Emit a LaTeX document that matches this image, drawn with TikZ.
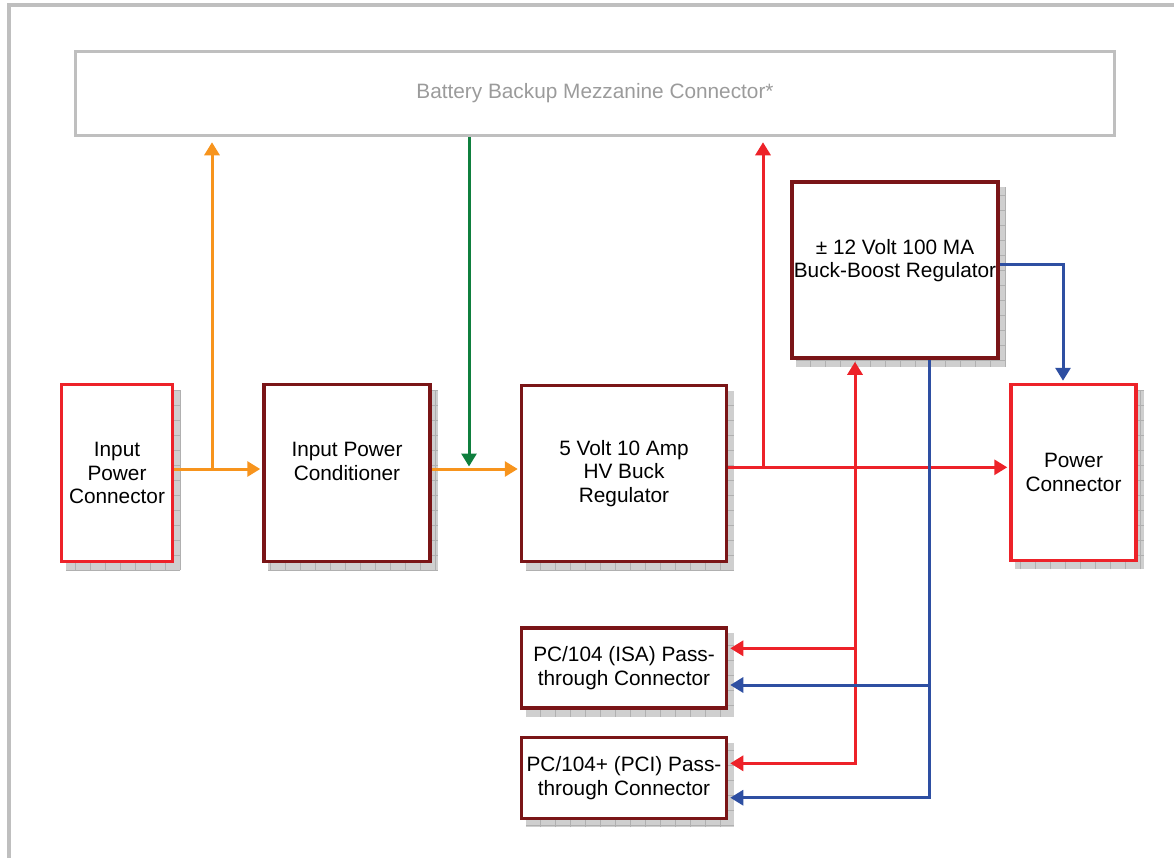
\documentclass[tikz,border=0pt]{standalone}
\usepackage{fontspec}
\setmainfont{Liberation Sans}
\usetikzlibrary{calc}
\usetikzlibrary{arrows.meta}
\usetikzlibrary{backgrounds}

\definecolor{boxred}{HTML}{ED2229}
\definecolor{boxmaroon}{HTML}{7A1517}
\definecolor{feedorange}{HTML}{F7941D}
\definecolor{feedgreen}{HTML}{0F7F3E}
\definecolor{feedblue}{HTML}{2E4FA2}
\definecolor{framegray}{HTML}{BFBFBF}
\definecolor{mezztext}{HTML}{9B9B9B}

\begin{document}
\begin{tikzpicture}[x=1pt,y=-1pt,
  blocknode/.style={draw,fill=white,line width=3.5pt,align=center,inner sep=0pt,
    font=\fontsize{20.8}{23.5}\selectfont},
  redblock/.style={blocknode,draw=boxred},
  darkblock/.style={blocknode,draw=boxmaroon},
  feed/.style={line width=3pt,-{Triangle[length=13pt,width=15pt]},shorten >=2pt},
  feedboth/.style={line width=3pt,{Triangle[length=13pt,width=15pt]}-{Triangle[length=13pt,width=15pt]},
    shorten >=2pt,shorten <=2pt}]

\useasboundingbox (0,0) rectangle (1174,857);

% Outer frame
\draw[framegray,line width=4.5pt] (9,880) -- (9,5) -- (1190,5);

% Battery Backup Mezzanine Connector
\node[draw=framegray,line width=3.5pt,minimum width=1039pt,minimum height=84pt,
  text=mezztext,font=\fontsize{20.8}{23.5}\selectfont] (Mezz) at (595,93.5)
  {Battery Backup Mezzanine Connector*};

% Blocks
\node[redblock,minimum width=111pt,minimum height=177pt] (InputConn) at (117,473)
  {Input\\Power\\Connector};
\node[darkblock,minimum width=166pt,minimum height=177pt] (PowerCond) at (347,473)
  {Input Power\\Conditioner\\\mbox{}};
\node[darkblock,minimum width=205pt,minimum height=176pt] (BuckReg) at (624,473.5)
  {5 Volt 10 Amp\\HV Buck\\Regulator};
\node[darkblock,minimum width=206pt,minimum height=176pt] (BoostReg) at (895,270)
  {± 12 Volt 100 MA\\Buck-Boost Regulator\\\mbox{}};
\node[redblock,minimum width=125pt,minimum height=176pt] (PowerConn) at (1073.5,472.5)
  {Power\\Connector};
\node[darkblock,minimum width=205pt,minimum height=80pt] (IsaConn) at (624,668)
  {PC/104 (ISA) Pass-\\through Connector};
\node[darkblock,minimum width=205pt,minimum height=81pt] (PciConn) at (624,778)
  {PC/104+ (PCI) Pass-\\through Connector};

% Grid shadows
\begin{scope}[on background layer]
\foreach \n in {InputConn,PowerCond,BuckReg,BoostReg,PowerConn,IsaConn,PciConn}{
  \fill[gray!38] ([shift={(6,7)}]\n.south west) rectangle ([shift={(6,7)}]\n.north east);
  \draw[gray!62,line width=0.5pt,step=15pt] ([shift={(6,7)}]\n.south west) grid ([shift={(6,7)}]\n.north east);
}
\end{scope}

% Taps
\coordinate (OrangeTap) at (212,469);
\coordinate (GreenTap) at (469,466.5);
\coordinate (RedTap) at (763,467.3);
\coordinate (RedIsa) at (855,648.3);
\coordinate (RedPci) at (855,763.3);
\coordinate (BlueTurn) at (1063,264.3);
\coordinate (BlueIsa) at (929,685);
\coordinate (BluePci) at (929,797.7);

% Input feed (orange)
\draw[feed,feedorange] (InputConn.east |- OrangeTap) -- (PowerCond.west |- OrangeTap);
\draw[feed,feedorange,shorten >=5pt] (OrangeTap) -- (OrangeTap |- Mezz.south);
\draw[feed,feedorange] (PowerCond.east |- OrangeTap) -- (BuckReg.west |- OrangeTap);

% Backup feed (green)
\draw[feed,feedgreen,shorten >=0pt] (GreenTap |- Mezz.south) -- (GreenTap);

% 5 V (red)
\draw[feed,boxred] (BuckReg.east |- RedTap) -- (PowerConn.west |- RedTap);
\draw[feed,boxred,shorten >=5pt] (RedTap) -- (RedTap |- Mezz.south);
\draw[feedboth,boxred] (PciConn.east |- RedPci) -- (RedPci) -- (RedPci |- BoostReg.south);
\draw[feed,boxred] (RedIsa) -- (IsaConn.east |- RedIsa);

% +-12 V (blue)
\draw[feed,feedblue] (BoostReg.east |- BlueTurn) -- (BlueTurn) -- (BlueTurn |- PowerConn.north);
\draw[feed,feedblue] (BluePci |- BoostReg.south) -- (BluePci) -- (PciConn.east |- BluePci);
\draw[feed,feedblue] (BlueIsa) -- (IsaConn.east |- BlueIsa);

\end{tikzpicture}
\end{document}
